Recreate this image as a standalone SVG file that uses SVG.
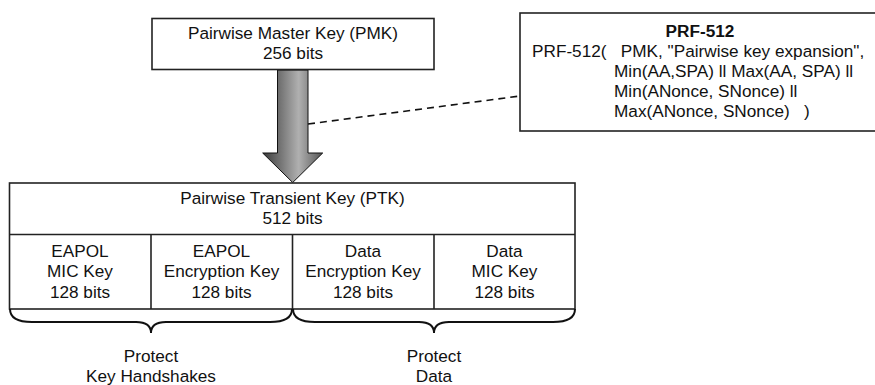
<svg xmlns="http://www.w3.org/2000/svg" width="875" height="385" viewBox="0 0 875 385">
<style>
text{font-family:"Liberation Sans",Arial,sans-serif;font-size:17.2px;fill:#111}
.c{text-anchor:middle}
.b{font-weight:bold}
.box{fill:#fff;stroke:#222;stroke-width:1.6}
.ln{stroke:#222;stroke-width:1.6;fill:none}
.brace{stroke:#111;stroke-width:2;fill:none}
</style>
<defs>
<linearGradient id="g" x1="0" y1="0" x2="1" y2="0">
<stop offset="0" stop-color="#3a3a3a"/>
<stop offset="0.6" stop-color="#b0b0b0"/>
<stop offset="1" stop-color="#555"/>
</linearGradient>
</defs>
<g id="connectors">
<polygon points="277.5,70 308,70 308,153 322.7,153 292.7,182.5 262.7,153 277.5,153" fill="url(#g)" stroke="#111" stroke-width="1"/>
<line x1="308" y1="124" x2="520" y2="96" stroke="#111" stroke-width="1.6" stroke-dasharray="7,5"/>
</g>
<g id="pmk">
<rect class="box" x="152" y="18.5" width="282" height="51"/>
<text class="c" x="293" y="39">Pairwise Master Key (PMK)</text>
<text class="c" x="293" y="59">256 bits</text>
</g>
<g id="prf">
<rect class="box" x="520" y="13" width="356" height="118"/>
<text class="c b" x="700" y="37">PRF-512</text>
<text x="532" y="57" xml:space="preserve">PRF-512(   PMK, "Pairwise key expansion",</text>
<text x="614" y="77">Min(AA,SPA) ll Max(AA, SPA) ll</text>
<text x="614" y="97">Min(ANonce, SNonce) ll</text>
<text x="614" y="117" xml:space="preserve">Max(ANonce, SNonce)   )</text>
</g>
<g id="ptk">
<rect class="box" x="9.5" y="183" width="565.5" height="126"/>
<line class="ln" x1="9.5" y1="234.5" x2="575" y2="234.5"/>
<text class="c" x="292.5" y="204">Pairwise Transient Key (PTK)</text>
<text class="c" x="292.5" y="224">512 bits</text>
</g>
<g id="eapol-mic">
<line class="ln" x1="151" y1="234.5" x2="151" y2="309"/>
<text class="c" x="80" y="257">EAPOL</text>
<text class="c" x="80" y="277">MIC Key</text>
<text class="c" x="80" y="298">128 bits</text>
</g>
<g id="eapol-enc">
<line class="ln" x1="292.5" y1="234.5" x2="292.5" y2="309"/>
<text class="c" x="221.5" y="257">EAPOL</text>
<text class="c" x="221.5" y="277">Encryption Key</text>
<text class="c" x="221.5" y="298">128 bits</text>
</g>
<g id="data-enc">
<line class="ln" x1="434" y1="234.5" x2="434" y2="309"/>
<text class="c" x="363" y="257">Data</text>
<text class="c" x="363" y="277">Encryption Key</text>
<text class="c" x="363" y="298">128 bits</text>
</g>
<g id="data-mic">
<text class="c" x="504.5" y="257">Data</text>
<text class="c" x="504.5" y="277">MIC Key</text>
<text class="c" x="504.5" y="298">128 bits</text>
</g>
<g id="protect-handshakes">
<path class="brace" d="M10,309 Q10,322 32,322 L136,322 Q151,322 151,333 Q151,322 166,322 L270,322 Q292,322 292,309"/>
<text class="c" x="151" y="361.5">Protect</text>
<text class="c" x="151" y="381.5">Key Handshakes</text>
</g>
<g id="protect-data">
<path class="brace" d="M293,309 Q293,322 315,322 L419,322 Q434,322 434,333 Q434,322 449,322 L553,322 Q575,322 575,309"/>
<text class="c" x="434" y="361.5">Protect</text>
<text class="c" x="434" y="381.5">Data</text>
</g>
</svg>
